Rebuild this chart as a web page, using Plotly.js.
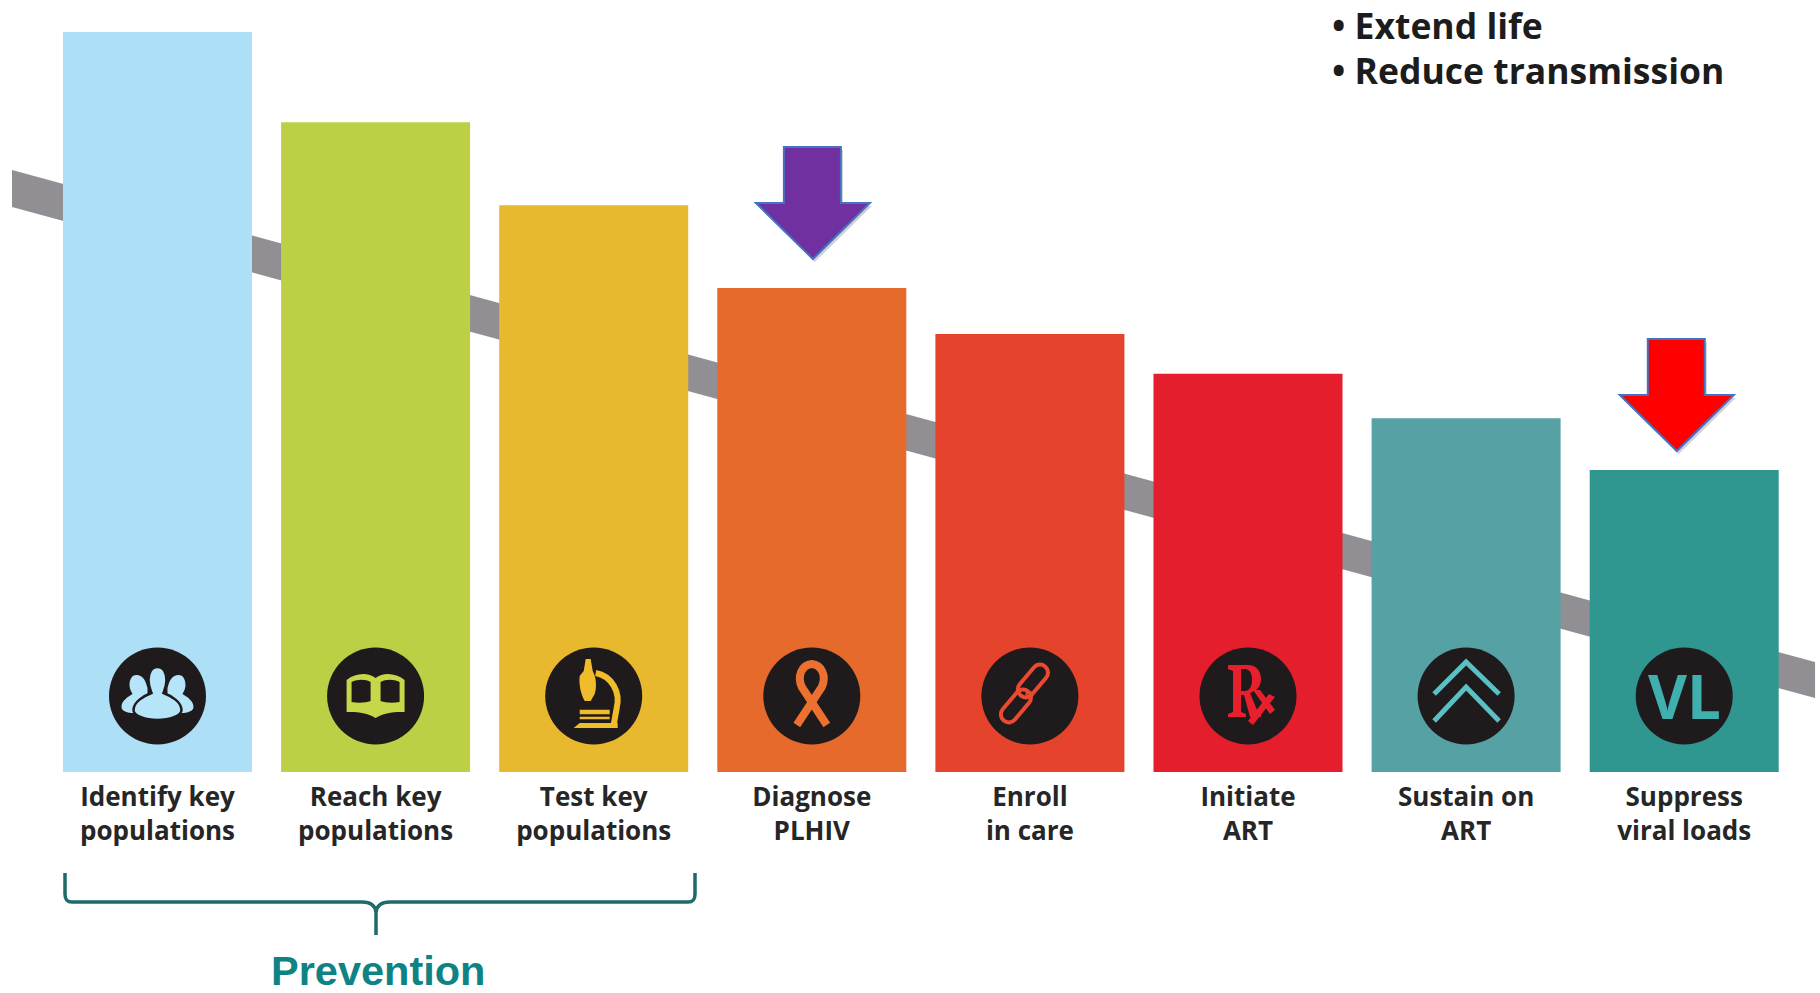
<!DOCTYPE html>
<html>
<head>
<meta charset="utf-8">
<script src="https://cdn.plot.ly/plotly-3.0.1.min.js"></script>
<style>html,body{margin:0;padding:0;background:#fff;overflow:hidden}#chart{width:1820px;height:993px}</style>
</head>
<body>
<div id="chart"></div>
<script>
// HIV care cascade steps, as a share of the first step
const categories = ["Identify key<br>populations", "Reach key<br>populations", "Test key<br>populations",
  "Diagnose<br>PLHIV", "Enroll<br>in care", "Initiate<br>ART", "Sustain on<br>ART", "Suppress<br>viral loads"];
const values = [100, 87.8, 76.6, 65.4, 59.2, 53.8, 47.8, 40.8];
const barColors = ["#ade0f6", "#bdcf45", "#e8b82e", "#e66a2c", "#e5432c", "#e41e2c", "#56a1a4", "#2f9690"];
const glyphColors = ["#b6e4f8", "#c6d74a", "#efbc2c", "#ec7030", "#ea4a30", "#e8202e", "#5cc0c3", "#3fb0ae"];
const iconDark = "#1f1a1c";
const iconLevel = 10.27;

// Declining trend band behind the bars
const bandX = [-0.667, 7.6];
const bandTop = [81.35, 14.86];
const bandBottom = [76.35, 10.0];

const positions = categories.map((_, i) => i);

// Scale: 7.4 px per unit on y, 218.1 px per step on x
const xRange = [-0.7221, 7.6226];
const yRange = [0, 104.32];
const plotHeight = 772;

// Closed ellipse as four cubic segments
function ellipse(cx, cy, rx, ry) {
  const k = 0.5523, a = rx * k, b = ry * k;
  return `M${cx - rx},${cy} C${cx - rx},${cy + b} ${cx - a},${cy + ry} ${cx},${cy + ry} ` +
    `C${cx + a},${cy + ry} ${cx + rx},${cy + b} ${cx + rx},${cy} ` +
    `C${cx + rx},${cy - b} ${cx + a},${cy - ry} ${cx},${cy - ry} ` +
    `C${cx - a},${cy - ry} ${cx - rx},${cy - b} ${cx - rx},${cy} Z`;
}

// Stadium outline rotated by deg, for the chain links
function link(cx, cy, len, r, deg) {
  const t = deg * Math.PI / 180, c = Math.cos(t), s = Math.sin(t), k = 0.5523 * r, h = len / 2 - r;
  const p = (u, v) => `${(cx + u * c - v * s).toFixed(2)},${(cy + u * s + v * c).toFixed(2)}`;
  return `M${p(-h, r)} L${p(h, r)} C${p(h + k, r)} ${p(h + r, k)} ${p(h + r, 0)} ` +
    `C${p(h + r, -k)} ${p(h + k, -r)} ${p(h, -r)} L${p(-h, -r)} ` +
    `C${p(-h - k, -r)} ${p(-h - r, -k)} ${p(-h - r, 0)} C${p(-h - r, k)} ${p(-h - k, r)} ${p(-h, r)} Z`;
}

// Icon glyphs in px around the circle centre, y pointing up.
// Each part: [path, fill key, stroke colour key, stroke width]
const iconParts = [
  // people: two side figures behind a central one
  [
    ["M-21,21 C-26,21 -28,16 -28,11 C-28,7 -26,4 -25,2 C-30,-1 -36,-5 -36,-11 C-36,-15 -30,-17 -24,-17 L-10,-17 L-10,8 C-12,16 -15,21 -21,21 Z", "g", null, 0],
    ["M21,21 C26,21 28,16 28,11 C28,7 26,4 25,2 C30,-1 36,-5 36,-11 C36,-15 30,-17 24,-17 L10,-17 L10,8 C12,16 15,21 21,21 Z", "g", null, 0],
    ["M0,29 C-6,29 -9,23 -9,16 C-9,10 -7,6 -6,3 C-14,0 -24,-6 -24,-14 C-24,-20 -12,-24 0,-24 C12,-24 24,-20 24,-14 C24,-6 14,0 6,3 C7,6 9,10 9,16 C9,23 6,29 0,29 Z", "g", "d", 2.5]
  ],
  // open book
  [
    ["M-29,16 C-20,23 -8,24 0,18 C8,24 20,23 29,16 L29,-16 C20,-16 10,-16 0,-22 C-10,-16 -20,-16 -29,-16 Z", "g", null, 0],
    ["M-24,14 C-18,17 -10,17 -5,14 L-5,-5 C-10,-7 -18,-7 -24,-6 Z", "d", null, 0],
    ["M24,14 C18,17 10,17 5,14 L5,-5 C10,-7 18,-7 24,-6 Z", "d", null, 0]
  ],
  // microscope
  [
    ["M-8,37 L-3,37 L-1,25 C3,18 3,8 1,2 L-3,-5 L-9,-5 C-13,2 -15,12 -14,20 L-10,25 Z", "g", null, 0],
    ["M2,23 C18,20 27,4 23,-12 L20,-29", "n", "g", 6],
    ["M-14,-16 L16,-16", "n", "g", 4.5],
    ["M-14,-22 L16,-22", "n", "g", 2.5],
    ["M-20,-32 L-14,-27 L24,-27 L24,-32 Z", "g", null, 0]
  ],
  // ribbon
  [
    ["M15,-29 L-10,9 C-15,20 -10,31 0,32 C10,31 15,20 10,9 L-15,-29", "n", "g", 8]
  ],
  // chain
  [
    [link(3, 15, 38, 8, 50), "n", "g", 4],
    [link(-14, -10, 38, 8, 50), "n", "g", 4],
    [ellipse(-1, 2, 2.5, 2.5), "n", "g", 2]
  ],
  // prescription sign
  [
    ["M-20,31 L0,31 C9,31 13,24 13,17 C13,9 8,5 2,3 L9,-14 C10,-17 11,-18 13,-18 L13,-21 L2,-21 L-4,1 L-7,1 L-7,-16 L-2,-18 L-2,-21 L-20,-21 L-20,-18 L-15,-16 L-15,25 L-20,27 Z", "g", null, 0],
    ["M-7,27 L-3,27 C2,27 4,22 4,16 C4,9 1,5 -3,5 L-7,5 Z", "d", null, 0],
    ["M5,6 L12,6 L27,-14 L22,-18 Z", "g", null, 0],
    ["M27,-1 L21,2 L0,-25 L5,-29 Z", "g", null, 0]
  ],
  // double chevron
  [
    ["M-32,2 L0,34 L33,2", "n", "g", 5],
    ["M-32,-25 L0,9 L33,-25", "n", "g", 5]
  ],
  // the VL icon is a text label
  []
];

function iconShapes() {
  const out = [];
  iconParts.forEach((parts, i) => {
    const col = k => k === "g" ? glyphColors[i] : k === "d" ? iconDark : "rgba(0,0,0,0)";
    parts.forEach(([path, fill, stroke, w]) => {
      out.push({
        type: "path", layer: "above", xref: "x", yref: "y",
        xsizemode: "pixel", ysizemode: "pixel", xanchor: i, yanchor: iconLevel,
        path, fillcolor: col(fill),
        line: {color: stroke ? col(stroke) : "rgba(0,0,0,0)", width: stroke ? w : 0}
      });
    });
  });
  return out;
}

// Down arrow with its tip at the anchor
function arrowPath(dx, dy) {
  const pts = [[-29, 112], [28, 112], [28, 56], [57, 56], [0, 0], [-57, 56], [-29, 56]];
  return "M" + pts.map(p => `${p[0] + dx},${p[1] + dy}`).join(" L") + " Z";
}
const arrowBlue = "#4472c4";
function arrowShapes(x, y, fill) {
  const base = {type: "path", xref: "x", yref: "y", xsizemode: "pixel", ysizemode: "pixel", xanchor: x, yanchor: y};
  return [
    {...base, path: arrowPath(2, -3), fillcolor: "rgba(0,0,0,0.18)", line: {width: 0, color: "rgba(0,0,0,0)"}},
    {...base, path: arrowPath(0, 0), fillcolor: fill, line: {color: arrowBlue, width: 2}}
  ];
}

const bandShape = {
  type: "path", layer: "below", xref: "x", yref: "y",
  path: `M${bandX[0]},${bandTop[0]} L${bandX[1]},${bandTop[1]} L${bandX[1]},${bandBottom[1]} L${bandX[0]},${bandBottom[0]} Z`,
  fillcolor: "#918f94", line: {width: 0, color: "rgba(0,0,0,0)"}
};

// Bracket under the three prevention steps, hung from the x axis
const bracketShape = {
  type: "path", xref: "paper", yref: "paper",
  xsizemode: "pixel", ysizemode: "pixel", xanchor: 0, yanchor: 0,
  path: "M65,-101 L65,-122 C65,-128 67,-130 72,-130 L362,-130 C370,-130 375,-133 376,-140 " +
    "C377,-133 382,-130 390,-130 L688,-130 C693,-130 695,-128 695,-122 L695,-101 M376,-140 L376,-163",
  fillcolor: "rgba(0,0,0,0)", line: {color: "#1d6b6a", width: 3.5}
};

const font = '"Open Sans", sans-serif';
const annotations = [
  {xref: "x", yref: "y", x: 7, y: iconLevel, text: "VL", showarrow: false,
   font: {family: font, size: 60, color: glyphColors[7], weight: 700}, xanchor: "center", yanchor: "middle"},
  {xref: "paper", yref: "paper", x: 1355 / 1820, y: 1, yshift: -25, text: "• Extend life", showarrow: false,
   font: {family: font, size: 35.5, color: "#1c1c1c", weight: 700}, xanchor: "left", yanchor: "middle", xshift: -25},
  {xref: "paper", yref: "paper", x: 1355 / 1820, y: 1, yshift: -70, text: "• Reduce transmission", showarrow: false,
   font: {family: font, size: 35.5, color: "#1c1c1c", weight: 700}, xanchor: "left", yanchor: "middle", xshift: -25},
  {xref: "paper", yref: "paper", x: 378 / 1820, y: 0, yshift: -198, text: "Prevention", showarrow: false,
   font: {family: '"Liberation Sans", sans-serif', size: 41.5, color: "#0f8383", weight: 700}, xanchor: "center", yanchor: "middle", borderpad: 0}
];

const traces = [
  {type: "bar", x: positions, y: values, width: 0.8666, marker: {color: barColors, line: {width: 0}}, hoverinfo: "skip"},
  {type: "scatter", mode: "markers", x: positions, y: positions.map(() => iconLevel),
   marker: {size: 97, color: iconDark, line: {width: 0}}, hoverinfo: "skip"}
];

const layout = {
  width: 1820, height: 993, showlegend: false,
  margin: {l: 0, r: 0, t: 0, b: 993 - plotHeight, pad: 0},
  paper_bgcolor: "#fff", plot_bgcolor: "#fff",
  xaxis: {
    range: xRange, tickmode: "array", tickvals: positions, ticktext: categories,
    showgrid: false, zeroline: false, showline: false, ticks: "", ticklabelstandoff: 7,
    tickfont: {family: font, size: 26, color: "#262626", weight: 700}
  },
  yaxis: {range: yRange, visible: false, showgrid: false, zeroline: false},
  shapes: [bandShape, bracketShape, ...iconShapes(),
    ...arrowShapes(3.005, (plotHeight - 259) / 7.4, "#7030a0"),
    ...arrowShapes(6.966, (plotHeight - 451) / 7.4, "#ff0000")],
  annotations
};

Plotly.newPlot("chart", traces, layout, {displayModeBar: false, staticPlot: true});
</script>
</body>
</html>
